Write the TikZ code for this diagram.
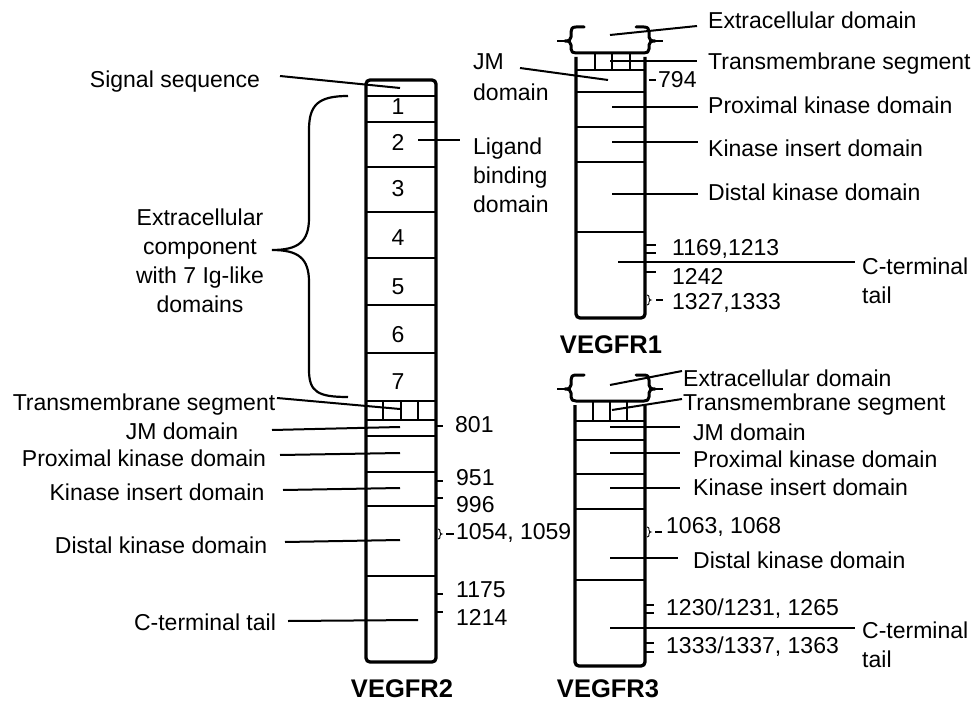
\documentclass[tikz,border=0pt]{standalone}
\usepackage{fontspec}
\setmainfont{Liberation Sans}
\begin{document}
\begin{tikzpicture}[x=1pt,y=-1pt,
  lbl/.style={font=\fontsize{23}{29}\selectfont, inner sep=0pt},
  ttl/.style={font=\bfseries\fontsize{25.5}{30}\selectfont, inner sep=0pt},
  box/.style={line width=3.3pt, rounded corners=4pt},
  div/.style={line width=2.9pt},
  ptr/.style={line width=2pt},
  grd/.style={line width=1.5pt},
  tck/.style={line width=2.8pt},
  sbr/.style={line width=0.9pt},
  brk/.style={line width=3pt, line join=round, line cap=round}]
\useasboundingbox[fill=white] (0,0) rectangle (971,703);

% ================= VEGFR2 =================
\draw[box] (366,80) rectangle (436,662);
\foreach \y in {96,122,167,212,258,305,353,401,420,436,472,506,576}
  \draw[div] (366,\y) -- (436,\y);
\foreach \x in {383,401,418} \draw[grd] (\x,401) -- (\x,420);
\node[lbl] (d1) at (398,107) {1};
\node[lbl] (d2) at (398,142) {2};
\node[lbl] (d3) at (398,189) {3};
\node[lbl] (d4) at (398,238) {4};
\node[lbl] (d5) at (398,287) {5};
\node[lbl] (d6) at (398,335) {6};
\node[lbl] (d7) at (398,382) {7};

% left labels
\node[lbl] (ss) at (175,82) {Signal sequence};
\node[lbl, align=center] (ec) at (200,261) {Extracellular\\component\\with 7 Ig-like\\domains};
\node[lbl] (tm2) at (144,405) {Transmembrane segment};
\node[lbl] (jm2) at (182,431) {JM domain};
\node[lbl] (pk2) at (144,458) {Proximal kinase domain};
\node[lbl] (ki2) at (157,492) {Kinase insert domain};
\node[lbl] (dk2) at (161,545) {Distal kinase domain};
\node[lbl] (ct2) at (205,622) {C-terminal tail};
\node[lbl, align=left, anchor=west] (lb) at (473,175) {Ligand\\binding\\domain};

\draw[ptr] (280,76) -- (400,88);
\draw[ptr] (418,140) -- (460,140);
\draw[ptr] (277,398) -- (400,409);
\draw[ptr] (272,430) -- (400,427);
\draw[ptr] (280,455) -- (400,453);
\draw[ptr] (283,490) -- (400,488);
\draw[ptr] (285,542) -- (400,540);
\draw[ptr] (288,621) -- (418,620);

% brace
\draw[line width=2.2pt] (348,96) .. controls (318,96) and (309,105) .. (309,130)
  -- (309,218) .. controls (309,242) and (298,250) .. (272,250)
  .. controls (298,250) and (309,258) .. (309,282)
  -- (309,370) .. controls (309,392) and (318,397) .. (348,397);

% residue ticks
\draw[tck] (436,426) -- (443,426);
\draw[tck] (436,481) -- (443,481);
\draw[tck] (436,498) -- (443,498);
\draw[sbr] (438,529) .. controls (440,529) and (440,530) .. (440,532) .. controls (440,533.5) and (441,534) .. (442,534) .. controls (441,534) and (440,534.5) .. (440,536) .. controls (440,538) and (440,539) .. (438,539);
\draw[tck] (446,534) -- (454,534);
\draw[tck] (436,594) -- (443,594);
\draw[tck] (436,612) -- (443,612);
\node[lbl, anchor=west] (n801) at (455,425) {801};
\node[lbl, anchor=west] (n951) at (456,478) {951};
\node[lbl, anchor=west] (n996) at (456,505) {996};
\node[lbl, anchor=west] (n1054) at (456,533) {1054, 1059};
\node[lbl, anchor=west] (n1175) at (456,590) {1175};
\node[lbl, anchor=west] (n1214) at (456,617) {1214};
\node[ttl] (t2) at (402,689) {VEGFR2};

% ================= VEGFR1 =================
\draw[brk] (584,27) -- (576,27) .. controls (572,27) and (571,29) .. (571,32) -- (571,37)
  .. controls (571,40) and (569,41) .. (565,41) .. controls (569,41) and (571,42) .. (571,45)
  -- (571,49) .. controls (571,52) and (573,53) .. (576,53) -- (644,53)
  .. controls (647,53) and (649,52) .. (649,49) -- (649,45)
  .. controls (649,42) and (651,41) .. (655,41) .. controls (651,41) and (649,40) .. (649,37)
  -- (649,32) .. controls (649,29) and (648,27) .. (644,27) -- (636,27);
\draw[tck] (557,41) -- (565,41);
\draw[tck] (655,41) -- (663,41);
\draw[box] (576,57) -- (576,318) -- (645,318) -- (645,57);
\foreach \y in {70,92,127,162,232} \draw[div] (576,\y) -- (645,\y);
\foreach \x in {595,612,630} \draw[grd] (\x,53) -- (\x,70);

\node[lbl, anchor=west] (ex1) at (708,20) {Extracellular domain};
\node[lbl, anchor=west] (tm1) at (708,64) {Transmembrane segment};
\node[lbl, anchor=west] (pk1) at (708,105) {Proximal kinase domain};
\node[lbl, anchor=west] (ki1) at (708,148) {Kinase insert domain};
\node[lbl, anchor=west] (dk1) at (708,192) {Distal kinase domain};
\node[lbl, anchor=west, align=left] (ct1) at (862,281) {C-terminal\\tail};
\node[lbl, anchor=west, align=left, font=\fontsize{23}{31}\selectfont] (jm1) at (473,77) {JM\\domain};

\draw[ptr] (610,35) -- (697,26);
\draw[ptr] (610,61) -- (697,61);
\draw[ptr] (520,68) -- (608,80);
\draw[ptr] (612,107) -- (698,107);
\draw[ptr] (612,142) -- (698,142);
\draw[ptr] (612,194) -- (698,194);
\draw[ptr] (618,262) -- (855,262);

\draw[tck] (649,80) -- (656,80);
\node[lbl, anchor=west] (n794) at (658,80) {794};
\draw[tck] (646,245) -- (656,245);
\draw[tck] (646,253) -- (656,253);
\draw[tck] (646,272) -- (656,272);
\draw[sbr] (647,295) .. controls (649,295) and (649,296) .. (649,298) .. controls (649,299.5) and (650,300) .. (651,300) .. controls (650,300) and (649,300.5) .. (649,302) .. controls (649,304) and (649,305) .. (647,305);
\draw[tck] (656,300) -- (663,300);
\node[lbl, anchor=west] (n1169) at (672,249) {1169,1213};
\node[lbl, anchor=west] (n1242) at (672,276) {1242};
\node[lbl, anchor=west] (n1327) at (672,303) {1327,1333};
\node[ttl] (t1) at (611,345) {VEGFR1};

% ================= VEGFR3 =================
\begin{scope}[shift={(0,348)}]
\draw[brk] (584,27) -- (576,27) .. controls (572,27) and (571,29) .. (571,32) -- (571,37)
  .. controls (571,40) and (569,41) .. (565,41) .. controls (569,41) and (571,42) .. (571,45)
  -- (571,49) .. controls (571,52) and (573,53) .. (576,53) -- (644,53)
  .. controls (647,53) and (649,52) .. (649,49) -- (649,45)
  .. controls (649,42) and (651,41) .. (655,41) .. controls (651,41) and (649,40) .. (649,37)
  -- (649,32) .. controls (649,29) and (648,27) .. (644,27) -- (636,27);
\draw[tck] (557,41) -- (565,41);
\draw[tck] (655,41) -- (663,41);
\end{scope}
\draw[box] (575,405) -- (575,666) -- (645,666) -- (645,405);
\foreach \y in {421,440,474,509,580} \draw[div] (575,\y) -- (645,\y);
\foreach \x in {593,610,627} \draw[grd] (\x,401) -- (\x,421);

\node[lbl, anchor=west] (ex3) at (683,378) {Extracellular domain};
\node[lbl, anchor=west] (tm3) at (683,405) {Transmembrane segment};
\node[lbl, anchor=west] (jm3) at (693,432) {JM domain};
\node[lbl, anchor=west] (pk3) at (693,459) {Proximal kinase domain};
\node[lbl, anchor=west] (ki3) at (693,487) {Kinase insert domain};
\node[lbl, anchor=west] (dk3) at (693,560) {Distal kinase domain};
\node[lbl, anchor=west, align=left] (ct3) at (862,645) {C-terminal\\tail};

\draw[ptr] (610,385) -- (682,371);
\draw[ptr] (612,410) -- (682,399);
\draw[ptr] (610,427) -- (680,427);
\draw[ptr] (610,453) -- (680,453);
\draw[ptr] (610,488) -- (680,488);
\draw[ptr] (610,558) -- (678,558);
\draw[ptr] (610,628) -- (855,628);

\draw[sbr] (647,527) .. controls (649,527) and (649,528) .. (649,530) .. controls (649,531.5) and (650,532) .. (651,532) .. controls (650,532) and (649,532.5) .. (649,534) .. controls (649,536) and (649,537) .. (647,537);
\draw[tck] (655,532) -- (662,532);
\draw[tck] (645,605) -- (654,605);
\draw[tck] (645,613) -- (654,613);
\draw[tck] (645,643) -- (654,643);
\draw[tck] (645,652) -- (654,652);
\node[lbl, anchor=west] (n1063) at (666,527) {1063, 1068};
\node[lbl, anchor=west] (n1230) at (666,609) {1230/1231, 1265};
\node[lbl, anchor=west] (n1333) at (666,647) {1333/1337, 1363};
\node[ttl] (t3) at (608,689) {VEGFR3};
\end{tikzpicture}
\end{document}
